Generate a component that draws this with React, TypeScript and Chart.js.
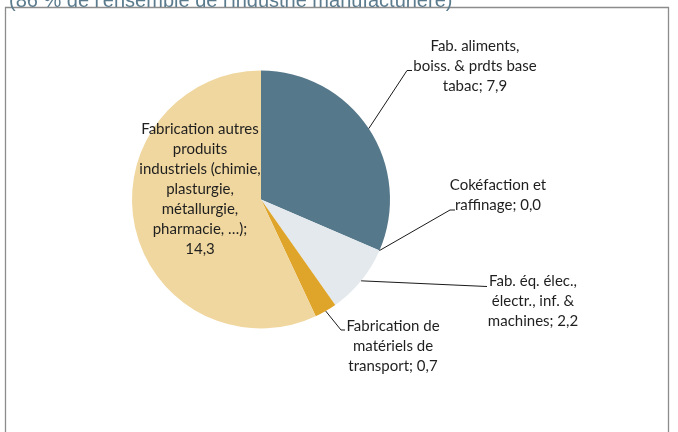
import React, { useEffect, useRef } from "react";
import { Chart, registerables } from "chart.js";

Chart.register(...registerables);

const titleText = "(86 % de l'ensemble de l'industrie manufacturière)";
const categories = [
  "Fab. aliments, boiss. & prdts base tabac",
  "Cokéfaction et raffinage",
  "Fab. éq. élec., électr., inf. & machines",
  "Fabrication de matériels de transport",
  "Fabrication autres produits industriels (chimie, plasturgie, métallurgie, pharmacie, …)",
];
const values = [7.9, 0.0, 2.2, 0.7, 14.3];
const colors = ["#56788B", "#E3E9EC", "#DFA52A", "#F0D79F"];
const sliceColors = [colors[0], colors[1], colors[1], colors[2], colors[3]];
// wrapped label lines; {v} is replaced by the value
const labelLines = [
  ["Fab. aliments,", "boiss. & prdts base", "tabac; {v}"],
  ["Cokéfaction et", "raffinage; {v}"],
  ["Fab. éq. élec.,", "électr., inf. &", "machines; {v}"],
  ["Fabrication de", "matériels de", "transport; {v}"],
  ["Fabrication autres", "produits", "industriels (chimie,", "plasturgie,", "métallurgie,", "pharmacie, …);", "{v}"],
];

// layout of the labels (position, leader elbow/end)
const labelLayout = [
  { cx: 475, y0: 46.5, elbow: [407, 70.5], end: [412, 70.5] },
  { cx: 498, y0: 185, elbow: [450, 210], end: [455, 210] },
  { cx: 533, y0: 281.5, elbow: [487, 286.5], end: [487, 286.5] },
  { cx: 393, y0: 326.5, elbow: [341, 330], end: [345, 330] },
  { cx: 200, y0: 129, elbow: null, end: null },
];

const fmt = (v: number) => v.toFixed(1).replace(".", ",");

const labelsPlugin = {
  id: "customLabels",
  beforeDraw(chart: any) {
    const ctx = chart.ctx;
    ctx.save();
    ctx.fillStyle = "#ffffff";
    ctx.fillRect(0, 0, chart.width, chart.height);
    // frame
    ctx.strokeStyle = "#8C8C8C";
    ctx.lineWidth = 1.3;
    ctx.beginPath();
    ctx.moveTo(5.5, 440);
    ctx.lineTo(5.5, 7.5);
    ctx.lineTo(668.5, 7.5);
    ctx.lineTo(668.5, 440);
    ctx.stroke();
    // title (cut off at top)
    ctx.fillStyle = "#5C7C8E";
    ctx.font = "20px 'Liberation Sans', Arial, sans-serif";
    ctx.textBaseline = "alphabetic";
    ctx.textAlign = "left";
    ctx.fillText(titleText, 9, 6.5);
    ctx.restore();
  },
  afterDatasetsDraw(chart: any) {
    const ctx = chart.ctx;
    const meta = chart.getDatasetMeta(0);
    ctx.save();
    ctx.font = "15px Lato, 'Open Sans', sans-serif";
    ctx.textAlign = "center";
    ctx.textBaseline = "middle";
    meta.data.forEach((arc: any, i: number) => {
      const lay = labelLayout[i];
      const p = arc.getProps(["x", "y", "startAngle", "endAngle", "outerRadius"], true);
      if (lay.elbow && lay.end) {
        const mid = (p.startAngle + p.endAngle) / 2;
        const sx = p.x + Math.cos(mid) * p.outerRadius;
        const sy = p.y + Math.sin(mid) * p.outerRadius;
        ctx.strokeStyle = "#1a1a1a";
        ctx.lineWidth = 1;
        ctx.beginPath();
        ctx.moveTo(sx, sy);
        ctx.lineTo(lay.elbow[0], lay.elbow[1]);
        ctx.lineTo(lay.end[0], lay.end[1]);
        ctx.stroke();
      }
      ctx.fillStyle = "#1f1f1f";
      labelLines[i].forEach((line, k) => {
        ctx.fillText(line.replace("{v}", fmt(values[i])), lay.cx, lay.y0 + k * 20);
      });
    });
    ctx.restore();
  },
};

export default function App() {
  const ref = useRef<HTMLCanvasElement | null>(null);
  useEffect(() => {
    document.body.style.margin = "0";
    const chart = new Chart(ref.current as HTMLCanvasElement, {
      type: "pie",
      data: {
        labels: categories,
        datasets: [
          {
            data: values,
            backgroundColor: sliceColors,
            borderWidth: 0,
          },
        ],
      },
      options: {
        animation: false,
        responsive: false,
        devicePixelRatio: 1,
        layout: { padding: { left: 132, right: 288, top: 70.5, bottom: 103.5 } },
        plugins: { legend: { display: false }, tooltip: { enabled: false } },
      },
      plugins: [labelsPlugin],
    });
    return () => chart.destroy();
  }, []);
  return (
    <div style={{ position: "fixed", left: 0, top: 0, width: 678, height: 432, overflow: "hidden", background: "#fff" }}>
      <canvas ref={ref} width={678} height={432} style={{ display: "block", width: 678, height: 432 }} />
    </div>
  );
}
